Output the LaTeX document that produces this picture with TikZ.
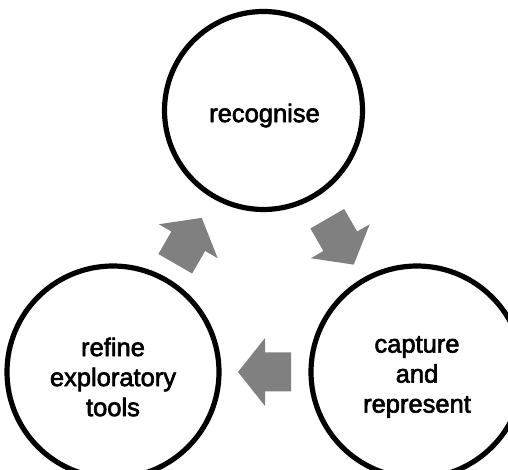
\documentclass[tikz,border=0pt]{standalone}
\usepackage{fontspec}
\setmainfont{Liberation Sans}
\newfontfamily\heavysans{Liberation Sans}[FakeBold=2.4]
\usetikzlibrary{calc}
\definecolor{arrowgray}{RGB}{128,128,128}
\begin{document}
\begin{tikzpicture}[x=0.5pt,y=0.5pt,
  stage/.style={circle, draw=black, line width=2.6pt, fill=white, inner sep=0pt},
  stagetext/.style={font=\heavysans\fontsize{12.75}{15}\selectfont, align=center, text=black, inner sep=0pt},
  blockarrow/.pic={\fill[arrowgray] (27,0) -- (0,34) -- (0,19.5) -- (-26,19.5)
      -- (-26,-19.5) -- (0,-19.5) -- (0,-34) -- cycle;}]
\useasboundingbox (0,0) rectangle (508,470);
\clip (0,0) rectangle (508,470);

% the three stages of the cycle
\node[stage, minimum size=99pt]  (top)   at (263.5,359.5) {};
\node[stage, minimum size=106pt] (left)  at (113,98) {};
\node[stage, minimum size=106pt] (right) at (417,98) {};

\node[stagetext] (top-t)   at ($(top)+(1,-5)$)   {recognise};
\node[stagetext] (left-t)  at ($(left)+(0,-5)$)  {refine\\exploratory\\tools};
\node[stagetext] (right-t) at ($(right)+(0,-5)$) {capture\\and\\represent};

% block arrows between the stages, clockwise
\pic[rotate=-60] at ($(top)!0.5!(right)$) {blockarrow};
\pic[rotate=180] at ($(right)!0.5!(left)$) {blockarrow};
\pic[rotate=60]  at ($(left)!0.5!(top)$) {blockarrow};
\end{tikzpicture}
\end{document}
